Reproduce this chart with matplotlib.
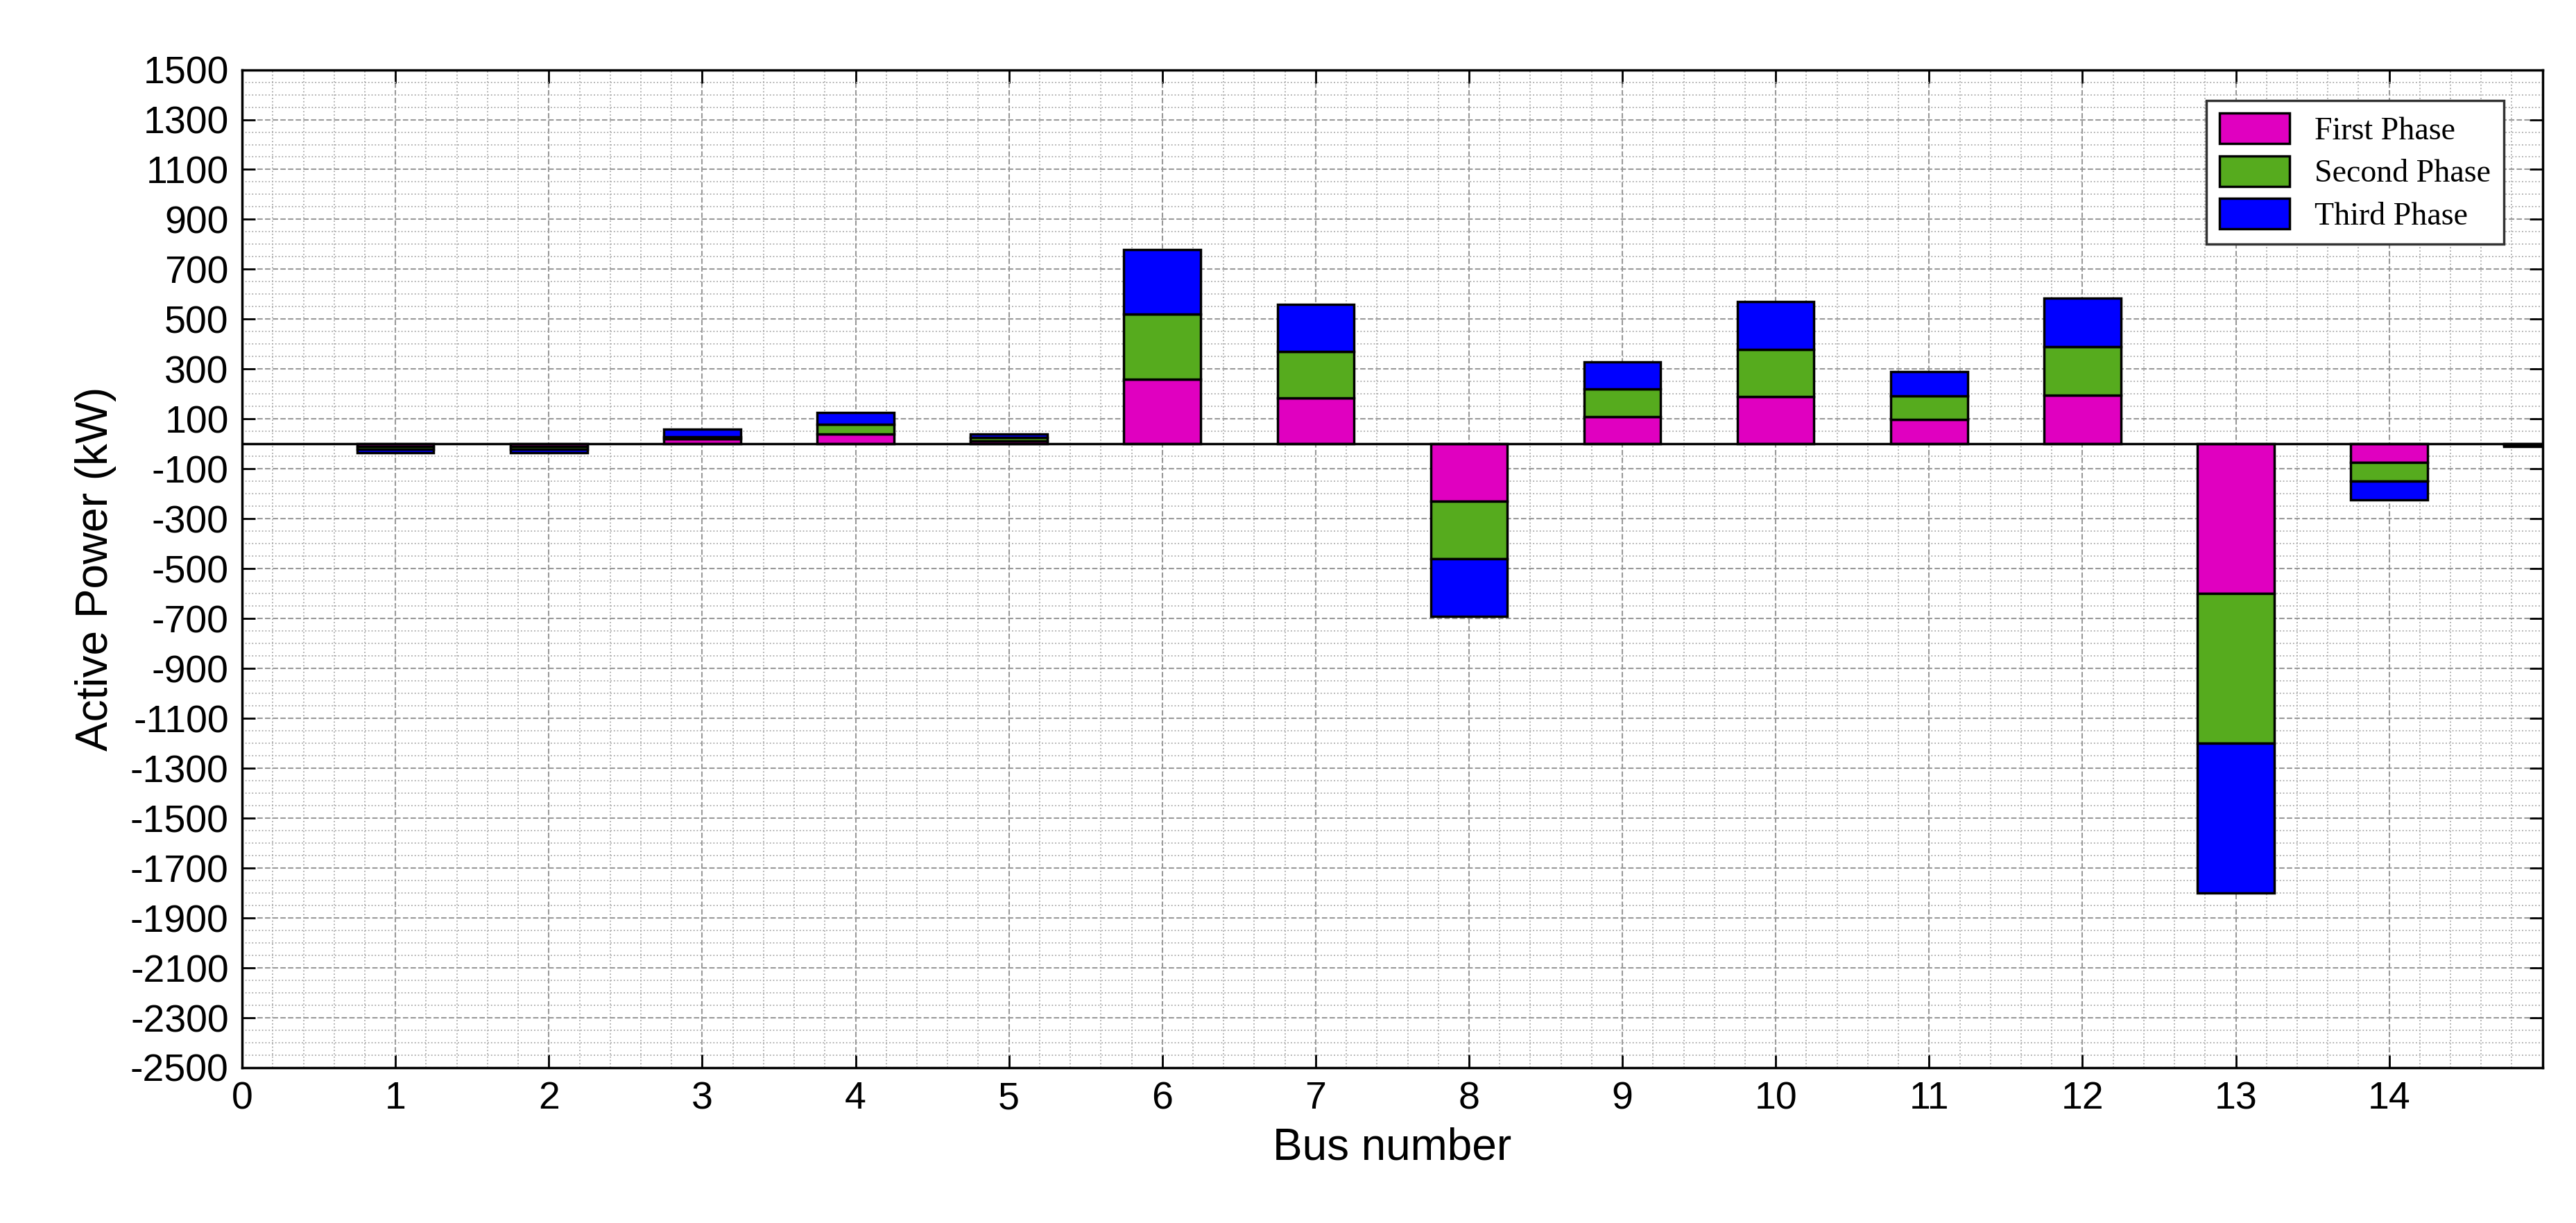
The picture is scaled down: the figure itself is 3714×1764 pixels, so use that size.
import matplotlib.pyplot as plt
import numpy as np
from matplotlib.ticker import MultipleLocator

plt.rcParams['font.family'] = ['Arial', 'Liberation Sans', 'DejaVu Sans']
plt.rcParams['axes.unicode_minus'] = False

buses = np.arange(1, 16)
first = [-10, -10, 20, 40, 13, 260, 185, -230, 110, 190, 97, 195, -600, -75, -3]
second = [-10, -10, 10, 40, 13, 260, 185, -230, 110, 190, 97, 195, -600, -75, -3]
third = [-15, -15, 30, 45, 14, 260, 190, -230, 110, 190, 97, 195, -600, -75, -3]

first = np.array(first)
second = np.array(second)
third = np.array(third)

fig = plt.figure(figsize=(37.14, 17.64), dpi=100)
ax = fig.add_axes([0.094, 0.127, 0.893, 0.816])

w = 0.5
kw = dict(width=w, edgecolor='black', linewidth=2.5, zorder=3)
ax.bar(buses, first, color='#e000c0', label='First Phase', **kw)
ax.bar(buses, second, bottom=first, color='#56ab1e', label='Second Phase', **kw)
ax.bar(buses, third, bottom=first + second, color='#0000ff', label='Third Phase', **kw)
ax.axhline(0, color='black', linewidth=2.5, zorder=4)

ax.set_xlim(0, 15)
ax.set_ylim(-2500, 1500)
ax.set_xticks(range(0, 15))
ax.set_yticks(range(-2500, 1501, 200))
ax.xaxis.set_minor_locator(MultipleLocator(0.2))
ax.yaxis.set_minor_locator(MultipleLocator(50))
ax.grid(which='major', color='#999999', linestyle='--', linewidth=1.5, zorder=0)
ax.grid(which='minor', color='#aaaaaa', linestyle=':', linewidth=1.3, zorder=0)
ax.tick_params(which='major', labelsize=40, length=14, width=2, direction='in',
               top=True, right=True, pad=14)
ax.tick_params(which='minor', length=0)
for s in ax.spines.values():
    s.set_linewidth(2.5)

ax.set_xlabel('Bus number', fontsize=46, labelpad=10)
ax.set_ylabel('Active Power (kW)', fontsize=46, labelpad=14)

leg = ax.legend(loc='upper right', bbox_to_anchor=(0.99, 0.985),
                prop={'family': 'Liberation Serif', 'size': 33},
                fancybox=False, edgecolor='#333333', framealpha=1,
                handlelength=2.2, handleheight=1.1, borderpad=0.4, labelspacing=0.3)
leg.get_frame().set_linewidth(2.5)

fig.savefig('out.png', dpi=100, facecolor='white')
